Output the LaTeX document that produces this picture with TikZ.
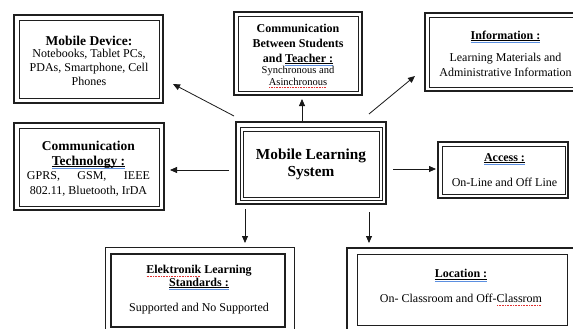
\documentclass[tikz,border=0pt]{standalone}
\usepackage{fontspec}
\setmainfont{Liberation Serif}
\usetikzlibrary{arrows.meta}
\definecolor{gramblue}{HTML}{5B8FE0}
\definecolor{spellred}{HTML}{E03030}
\newsavebox\markbox
% underlined heading with the blue proofing line below it
\newcommand\headul[1]{\leavevmode\sbox\markbox{#1}%
  \rlap{\rule[-1.6pt]{\wd\markbox}{0.55pt}}%
  \rlap{\color{gramblue}\rule[-3.6pt]{\wd\markbox}{0.7pt}}%
  \usebox\markbox}
% word with a red spelling squiggle
\newcommand\spellmark[1]{\leavevmode\sbox\markbox{#1}%
  \rlap{\color{spellred}\hbox to \wd\markbox{\leaders\hbox to 1.6pt{\hss\rule[-2.8pt]{0.9pt}{0.6pt}\hss}\hfill}}%
  \usebox\markbox}
\begin{document}
\begin{tikzpicture}[x=1pt,y=-1pt,
  heavy/.style={draw=black!88, line width=1.6pt, inner sep=0pt},
  light/.style={draw=black!88, line width=0.8pt, inner sep=0pt},
  txt/.style={align=center, inner sep=0pt, font=\fontsize{12}{14}\selectfont},
  arr/.style={draw=black!90, line width=0.8pt, -{Triangle[length=7pt,width=6pt]}}]
\clip (0,0) rectangle (573,329);
\fill[white] (0,0) rectangle (573,329);

% frames
\node[heavy, minimum width=149pt, minimum height=88pt] (dev-o) at (88.5,59) {};
\node[light, minimum width=140pt, minimum height=78pt] (dev-i) at (89,59) {};
\node[heavy, minimum width=128pt, minimum height=83pt] (comm-o) at (298,53.5) {};
\node[light, minimum width=120pt, minimum height=75pt] (comm-i) at (298,53.5) {};
\node[heavy, minimum width=164pt, minimum height=78pt] (info-o) at (507,52) {};
\node[light, minimum width=156pt, minimum height=70pt] (info-i) at (507,52) {};
\node[heavy, minimum width=150pt, minimum height=87pt] (tech-o) at (89,166.5) {};
\node[light, minimum width=140pt, minimum height=78pt] (tech-i) at (89,167) {};
\node[heavy, minimum width=150pt, minimum height=82pt] (mls-o) at (311,163) {};
\node[light, minimum width=142pt, minimum height=73pt] (mls-m) at (311,163.5) {};
\node[light, minimum width=136pt, minimum height=66pt] (mls-i) at (311,164) {};
\node[heavy, minimum width=130pt, minimum height=56pt] (acc-o) at (503,170) {};
\node[light, minimum width=123pt, minimum height=48pt] (acc-i) at (503.5,170) {};
\node[light, minimum width=189pt, minimum height=88pt] (elek-o) at (199.5,291) {};
\node[heavy, minimum width=174pt, minimum height=73pt] (elek-i) at (198,290.5) {};
\node[heavy, minimum width=230pt, minimum height=87pt] (loc-o) at (462,291.5) {};
\node[light, minimum width=210pt, minimum height=71pt] (loc-i) at (462,289.5) {};

% texts
\node[txt] (dev) at (89,60.5) {{\fontsize{13.5}{14}\selectfont\bfseries Mobile Device:}\\[-2pt]Notebooks, Tablet PCs,\\PDAs, Smartphone, Cell\\Phones};
\node[txt, font=\fontsize{12}{15}\selectfont] (comm) at (298,56) {\bfseries Communication\\\bfseries Between Students\\\bfseries and \headul{Teacher :}\\[-4pt]{\fontsize{10.5}{11.5}\selectfont Synchronous and}\\[-3pt]{\fontsize{10.5}{11.5}\selectfont\spellmark{Asinchronous}}};
\node[txt, font=\fontsize{12}{15}\selectfont] (info) at (505.5,53.5) {\bfseries\headul{Information :}\\[7pt]Learning Materials and\\Administrative Information};
\node[txt, font=\fontsize{13.5}{15}\selectfont\bfseries] (tech) at (88.5,168.5) {Communication\\\headul{Technology :}\\[-1pt]\normalfont\fontsize{12}{13.5}\selectfont\hbox to 123pt{GPRS,\hfill GSM,\hfill IEEE}\\\normalfont\fontsize{12}{13.5}\selectfont 802.11, Bluetooth, IrDA};
\node[txt, font=\fontsize{15.3}{16.5}\selectfont\bfseries] (mls) at (311,164.5) {Mobile Learning\\System};
\node[txt] (acc) at (504.5,170) {\bfseries\headul{Access :}\\[11pt]On-Line and Off Line};
\node[txt, font=\fontsize{12}{13}\selectfont] (elek) at (199,289.5) {\bfseries\spellmark{Elektronik} Learning\\\bfseries\headul{Standards :}\\[12pt]Supported and No Supported};
\node[txt] (loc) at (461,287.5) {\bfseries\headul{Location :}\\[11pt]On- Classroom and Off-\spellmark{Classrom}};

% connector ends
\coordinate (d-s) at (234,116);  \coordinate (d-e) at (173,84);
\coordinate (c-s) at (302,121);  \coordinate (c-e) at (302,99);
\coordinate (i-s) at (369,114);  \coordinate (i-e) at (415,76);
\coordinate (t-s) at (229,170);  \coordinate (t-e) at (170,170);
\coordinate (a-s) at (393,169);  \coordinate (a-e) at (436,169);
\coordinate (e-s) at (245,209);  \coordinate (e-e) at (245,243);
\coordinate (l-s) at (369,212);  \coordinate (l-e) at (369,243);

\draw[arr] (d-s) -- (d-e);
\draw[arr] (c-s) -- (c-e);
\draw[arr] (i-s) -- (i-e);
\draw[arr] (t-s) -- (t-e);
\draw[arr] (a-s) -- (a-e);
\draw[arr] (e-s) -- (e-e);
\draw[arr] (l-s) -- (l-e);
\end{tikzpicture}
\end{document}
